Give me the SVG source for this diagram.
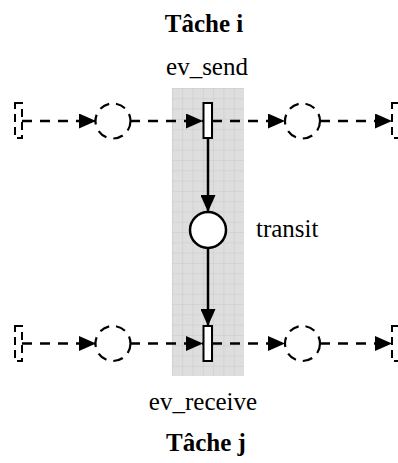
<svg xmlns="http://www.w3.org/2000/svg" width="398" height="463" viewBox="0 0 398 463">
  <style>
    .lbl { font-family: "Liberation Serif", "Times New Roman", serif; font-size: 25px; fill: #000; }
    .title { font-family: "Liberation Serif", "Times New Roman", serif; font-size: 25px; font-weight: bold; fill: #000; }
    .dash { fill: none; stroke: #000; stroke-width: 2.6; stroke-dasharray: 10 8; }
    .dplace { fill: #fff; stroke: #000; stroke-width: 2.2; stroke-dasharray: 10 7; }
    .drect { fill: #fff; stroke: #000; stroke-width: 2; stroke-dasharray: 8 5; }
    .trans { fill: #fff; stroke: #000; stroke-width: 2; }
    .place { fill: #fff; stroke: #000; stroke-width: 2.5; }
    .solid { fill: none; stroke: #000; stroke-width: 2.5; }
  </style>
  <defs>
    <marker id="arr" markerUnits="userSpaceOnUse" markerWidth="17" markerHeight="15" refX="17" refY="7.5" orient="auto">
      <path d="M0,0 L17,7.5 L0,15 z" fill="#000"/>
    </marker>
    <pattern id="grid" x="172" y="88" width="10.29" height="10.29" patternUnits="userSpaceOnUse">
      <rect width="10.29" height="10.29" fill="#dedede"/>
      <path d="M0,0 H10.29 M0,0 V10.29" stroke="#c8c8c8" stroke-width="1" fill="none"/>
    </pattern>
  </defs>

  <rect id="band" x="172" y="88" width="72" height="288" fill="url(#grid)"/>

  <text class="title" x="204" y="32" text-anchor="middle">Tâche i</text>
  <text class="title" x="206" y="451" text-anchor="middle">Tâche j</text>

  <g id="connectors">
    <line class="dash" x1="22" y1="121" x2="96" y2="121" marker-end="url(#arr)"/>
    <line class="dash" x1="130" y1="121" x2="203" y2="121" marker-end="url(#arr)"/>
    <line class="dash" x1="212" y1="121" x2="285" y2="121" marker-end="url(#arr)"/>
    <line class="dash" x1="320" y1="121" x2="392" y2="121" marker-end="url(#arr)"/>
    <line class="dash" x1="22" y1="343.5" x2="96" y2="343.5" marker-end="url(#arr)"/>
    <line class="dash" x1="130" y1="343.5" x2="203" y2="343.5" marker-end="url(#arr)"/>
    <line class="dash" x1="212" y1="343.5" x2="285" y2="343.5" marker-end="url(#arr)"/>
    <line class="dash" x1="320" y1="343.5" x2="392" y2="343.5" marker-end="url(#arr)"/>
    <line class="solid" x1="208" y1="138" x2="208" y2="212" marker-end="url(#arr)"/>
    <line class="solid" x1="208" y1="248" x2="208" y2="326" marker-end="url(#arr)"/>
  </g>

  <g id="start-i"><rect class="drect" x="15" y="103" width="7" height="35"/></g>
  <g id="place-i1"><circle class="dplace" cx="113" cy="121" r="17.5"/></g>
  <g id="ev_send">
    <rect class="trans" x="203.5" y="103" width="8.5" height="35"/>
    <text class="lbl" x="207" y="75" text-anchor="middle">ev_send</text>
  </g>
  <g id="place-i2"><circle class="dplace" cx="302.5" cy="121" r="17.5"/></g>
  <g id="end-i"><rect class="drect" x="392" y="103" width="7" height="35"/></g>

  <g id="transit">
    <circle class="place" cx="208" cy="230" r="18"/>
    <text class="lbl" x="256" y="237">transit</text>
  </g>

  <g id="start-j"><rect class="drect" x="15" y="326" width="7" height="35"/></g>
  <g id="place-j1"><circle class="dplace" cx="113" cy="343.5" r="17.5"/></g>
  <g id="ev_receive">
    <rect class="trans" x="203.5" y="326" width="8.5" height="35"/>
    <text class="lbl" x="203" y="410" text-anchor="middle">ev_receive</text>
  </g>
  <g id="place-j2"><circle class="dplace" cx="302.5" cy="343.5" r="17.5"/></g>
  <g id="end-j"><rect class="drect" x="392" y="326" width="7" height="35"/></g>
</svg>
